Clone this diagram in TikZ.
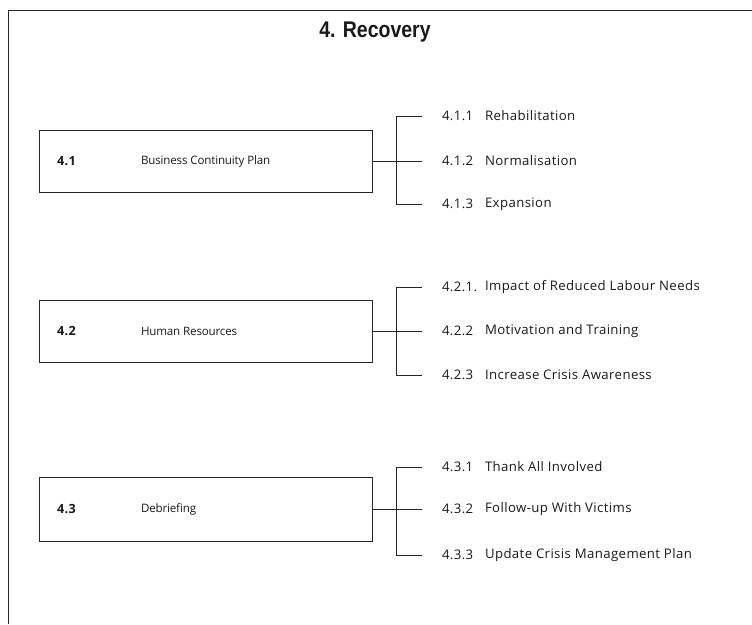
\documentclass[tikz,border=0pt]{standalone}
\usepackage{fontspec}
\setmainfont{Open Sans}
\newfontfamily\titlefont[FakeStretch=0.86]{Liberation Sans}
\newfontfamily\subfont[LetterSpace=3]{Open Sans}
\newfontfamily\boxfont[LetterSpace=-1.5]{Open Sans}
\begin{document}
\begin{tikzpicture}[x=0.75pt,y=-0.75pt,
  every node/.style={inner sep=0pt,outer sep=0pt,font=\boxfont\fontsize{8.7}{10}\selectfont,text=black!90},
  frameline/.style={line width=0.6pt,draw=black!85},
  mainbox/.style={draw=black!85,line width=0.6pt,minimum width=249.75pt,minimum height=46.5pt,anchor=north west},
  num/.style={anchor=west,font=\subfont\fontsize{9.5}{11}\selectfont\bfseries},
  lbl/.style={anchor=west},
  sub/.style={anchor=west,font=\subfont\fontsize{9.9}{11}\selectfont},
  conn/.style={line width=0.55pt,draw=black!85},
  branch/.style={conn,shorten >=15pt}
]
\useasboundingbox (0,0) rectangle (752,624);
% frame
\coordinate (ftl) at (8,10);
\coordinate (ftr) at (752,10);
\coordinate (fbl) at (8,624);
\draw[frameline] (fbl) -- (ftl) -- (ftr);
% title
\node[font=\titlefont\bfseries\fontsize{17}{19}\selectfont] (title) at (375,32) {4. Recovery};

% ---------- group 1
\node[mainbox] (b1) at (39,130) {};
\node[num] (b1n) at (57,161) {4.1};
\node[lbl] (b1t) at (141,161) {Business Continuity Plan};
\coordinate (j1) at (396,161);
\node[sub] (s11) at (442,116) {4.1.1};
\node[sub] (s11t) at (485,116) {Rehabilitation};
\node[sub] (s12) at (442,161) {4.1.2};
\node[sub] (s12t) at (485,161) {Normalisation};
\node[sub] (s13) at (442,204) {4.1.3};
\node[sub] (s13t) at (485,204) {Expansion};
\draw[conn] (b1.east) -- (j1);
\draw[branch] (j1) |- (s11.west);
\draw[branch] (j1) -- (s12.west);
\draw[branch] (j1) |- (s13.west);

% ---------- group 2
\node[mainbox] (b2) at (39,300) {};
\node[num] (b2n) at (57,331) {4.2};
\node[lbl] (b2t) at (141,331) {Human Resources};
\coordinate (j2) at (396,331);
\node[sub] (s21) at (442,287) {4.2.1.};
\node[sub] (s21t) at (485,287) {Impact of Reduced Labour Needs};
\node[sub] (s22) at (442,331) {4.2.2};
\node[sub] (s22t) at (485,331) {Motivation and Training};
\node[sub] (s23) at (442,375) {4.2.3};
\node[sub] (s23t) at (485,375) {Increase Crisis Awareness};
\draw[conn] (b2.east) -- (j2);
\draw[branch] (j2) |- (s21.west);
\draw[branch] (j2) -- (s22.west);
\draw[branch] (j2) |- (s23.west);

% ---------- group 3
\node[mainbox,minimum height=48pt] (b3) at (39,477) {};
\node[num] (b3n) at (57,509) {4.3};
\node[lbl] (b3t) at (141,509) {Debriefing};
\coordinate (j3) at (396,509);
\node[sub] (s31) at (442,467) {4.3.1};
\node[sub] (s31t) at (485,467) {Thank All Involved};
\node[sub] (s32) at (442,509) {4.3.2};
\node[sub] (s32t) at (485,509) {Follow-up With Victims};
\node[sub] (s33) at (442,555) {4.3.3};
\node[sub] (s33t) at (485,555) {Update Crisis Management Plan};
\draw[conn] (b3.east) -- (j3);
\draw[branch] (j3) |- (s31.west);
\draw[branch] (j3) -- (s32.west);
\draw[branch] (j3) |- (s33.west);
\end{tikzpicture}
\end{document}
